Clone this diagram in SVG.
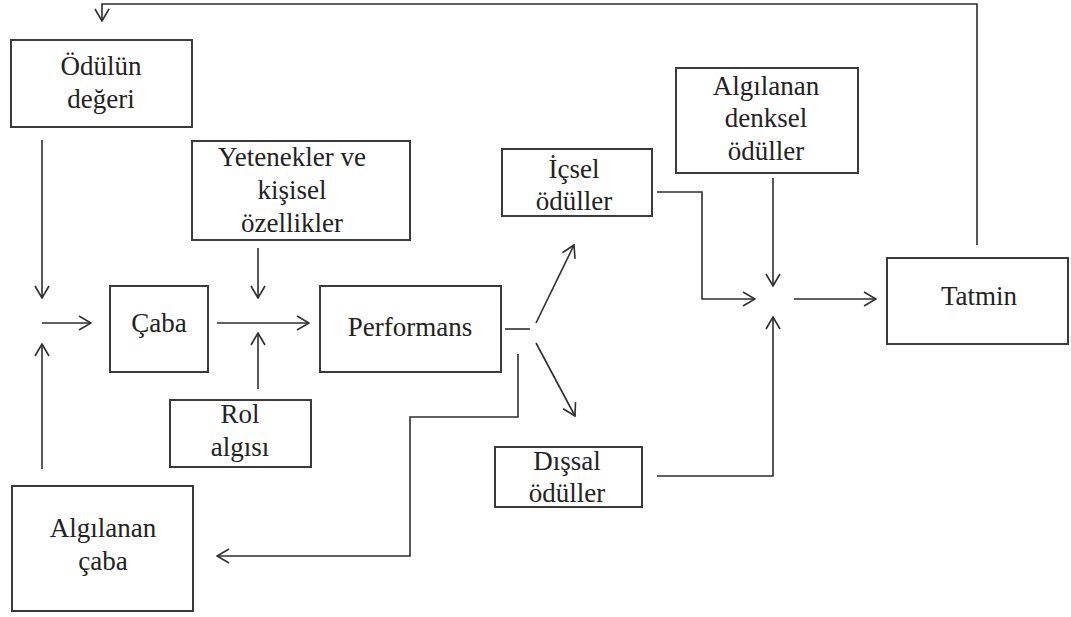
<svg xmlns="http://www.w3.org/2000/svg" width="1071" height="617" viewBox="0 0 1071 617" font-family="'Liberation Serif', 'DejaVu Serif', serif">
<style>
.box{fill:#fff;stroke:#3a3a3a;stroke-width:2}
.ln{fill:none;stroke:#2e2e2e;stroke-width:1.6}
.t{font-family:'Liberation Serif','DejaVu Serif',serif;font-size:27px;fill:#222;text-anchor:middle}
</style>
<defs>
<marker id="ah" viewBox="0 0 14 16" refX="13" refY="8" markerWidth="14" markerHeight="16" markerUnits="userSpaceOnUse" orient="auto">
<path d="M1,1 L13,8 L1,15" fill="none" stroke="#2e2e2e" stroke-width="1.6"/>
</marker>
</defs>
<rect width="1071" height="617" fill="#fff"/>
<g id="connectors">
<polyline class="ln" points="977,245 977,4 102,4 102,21" marker-end="url(#ah)"/>
<line class="ln" x1="42" y1="140" x2="42" y2="298" marker-end="url(#ah)"/>
<line class="ln" x1="42" y1="469" x2="42" y2="344" marker-end="url(#ah)"/>
<line class="ln" x1="42" y1="323" x2="91" y2="323" marker-end="url(#ah)"/>
<line class="ln" x1="217" y1="323" x2="309" y2="323" marker-end="url(#ah)"/>
<line class="ln" x1="258" y1="248" x2="258" y2="298" marker-end="url(#ah)"/>
<line class="ln" x1="258" y1="389" x2="258" y2="333" marker-end="url(#ah)"/>
<line class="ln" x1="505" y1="329" x2="530" y2="329"/>
<line class="ln" x1="536" y1="323" x2="574" y2="245" marker-end="url(#ah)"/>
<line class="ln" x1="536" y1="343" x2="575" y2="416" marker-end="url(#ah)"/>
<polyline class="ln" points="518,354 518,417 410,417 410,556 217,556" marker-end="url(#ah)"/>
<polyline class="ln" points="657,192 702,192 702,299 755,299" marker-end="url(#ah)"/>
<line class="ln" x1="773" y1="178" x2="773" y2="286" marker-end="url(#ah)"/>
<polyline class="ln" points="657,476 773,476 773,317" marker-end="url(#ah)"/>
<line class="ln" x1="794" y1="299" x2="876" y2="299" marker-end="url(#ah)"/>
</g>
<g id="odulun-degeri">
<rect class="box" x="11" y="40" width="181" height="87"/>
<text class="t" x="101" y="75">Ödülün</text>
<text class="t" x="101" y="108">değeri</text>
</g>
<g id="yetenekler">
<rect class="box" x="192" y="141" width="218" height="99"/>
<text class="t" x="292" y="166">Yetenekler ve</text>
<text class="t" x="292" y="199">kişisel</text>
<text class="t" x="292" y="232">özellikler</text>
</g>
<g id="caba">
<rect class="box" x="110" y="286" width="98" height="86"/>
<text class="t" x="159" y="332">Çaba</text>
</g>
<g id="performans">
<rect class="box" x="320" y="286" width="181" height="86"/>
<text class="t" x="410" y="336">Performans</text>
</g>
<g id="rol-algisi">
<rect class="box" x="170" y="400" width="141" height="67"/>
<text class="t" x="240" y="423">Rol</text>
<text class="t" x="240" y="456">algısı</text>
</g>
<g id="algilanan-caba">
<rect class="box" x="12" y="486" width="181" height="125"/>
<text class="t" x="103" y="537">Algılanan</text>
<text class="t" x="103" y="570">çaba</text>
</g>
<g id="icsel-oduller">
<rect class="box" x="502" y="149" width="150" height="67"/>
<text class="t" x="574" y="178">İçsel</text>
<text class="t" x="574" y="210">ödüller</text>
</g>
<g id="algilanan-denksel">
<rect class="box" x="676" y="68" width="182" height="105"/>
<text class="t" x="766" y="95">Algılanan</text>
<text class="t" x="766" y="127">denksel</text>
<text class="t" x="766" y="160">ödüller</text>
</g>
<g id="tatmin">
<rect class="box" x="887" y="258" width="181" height="86"/>
<text class="t" x="979" y="305">Tatmin</text>
</g>
<g id="dissal-oduller">
<rect class="box" x="495" y="447" width="147" height="60"/>
<text class="t" x="567" y="470">Dışsal</text>
<text class="t" x="567" y="502">ödüller</text>
</g>
</svg>
